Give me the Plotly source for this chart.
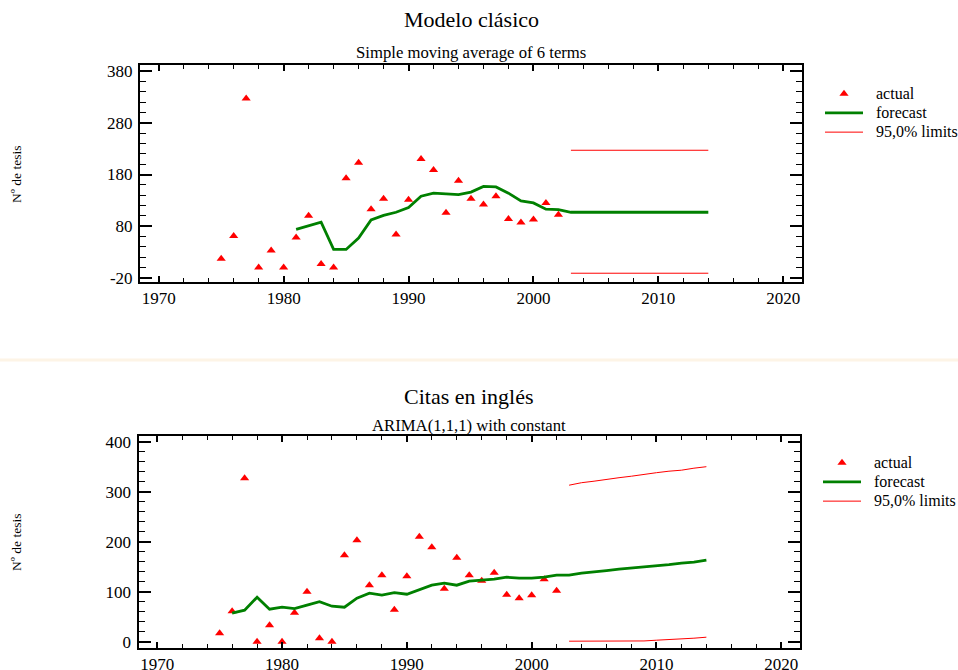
import plotly.graph_objects as go

# ---- data ----
years_actual = list(range(1975, 2003))
actual = [17, 61, 327, 0, 33, 0, 58, 100, 7, 0, 173, 203, 113, 133, 64, 131,
          210, 189, 106, 168, 133, 122, 138, 94, 87, 93, 125, 102]

years_ma = list(range(1981, 2015))
ma_forecast = [74, 81, 88, 35, 35, 57, 92, 101, 107, 116, 138, 144, 142, 141,
               146, 157, 156, 144, 129, 125, 113, 112,
               107, 107, 107, 107, 107, 107, 107, 107, 107, 107, 107, 107]

years_lim = list(range(2003, 2015))
ma_upper = [227, 227, 227, 227, 227, 227, 227, 227, 227, 227, 227, 227]
ma_lower = [-11, -11, -11, -11, -11, -11, -11, -11, -11, -11, -11, -11]

years_arima = list(range(1976, 2015))
arima_forecast = [57, 63, 89, 65, 69, 66, 73, 80, 71, 69, 87, 97, 93, 98, 95,
                  104, 113, 117, 113, 121, 123, 125, 129, 127, 127, 129, 133,
                  133, 137, 139, 142, 145, 147, 149, 151, 154, 157, 159, 163]
arima_upper = [313, 318, 321, 325, 328, 331, 335, 338, 341, 343, 347, 350]
arima_lower = [1, 1, 1, 1, 1, 1, 1.5, 3, 4, 5, 7, 9]

top_yticks = [-20, 80, 180, 280, 380]
top_yticklabels = ["-20", "80", "180", "280", "380"]

W, H = 958, 670
FONT = "Liberation Serif"

def px_x(v):
    return v / W

def px_y(v):
    return 1 - v / H

def leg(s):
    # bigger glyphs inside a smaller legend font keeps the rows tight
    return '<span style="font-size:16px">\u2002%s</span>' % s

fig = go.Figure()

panels = [
    ("x", "y", "legend", years_ma, ma_forecast, ma_upper, ma_lower),
    ("x2", "y2", "legend2", years_arima, arima_forecast, arima_upper, arima_lower),
]
for xa, ya, lg, fy, fc, up, lo in panels:
    fig.add_trace(go.Scatter(x=years_actual, y=actual, mode="markers", name=leg("actual"),
                             marker=dict(symbol="triangle-up", color="red", size=8),
                             xaxis=xa, yaxis=ya, legend=lg, cliponaxis=False))
    fig.add_trace(go.Scatter(x=fy, y=fc, mode="lines", name=leg("forecast"),
                             line=dict(color="#008000", width=2.8),
                             xaxis=xa, yaxis=ya, legend=lg))
    fig.add_trace(go.Scatter(x=years_lim, y=up, mode="lines", name=leg("95,0% limits"),
                             line=dict(color="red", width=1),
                             xaxis=xa, yaxis=ya, legend=lg))
    fig.add_trace(go.Scatter(x=years_lim, y=lo, mode="lines", name="95,0% limits",
                             line=dict(color="red", width=1), showlegend=False,
                             xaxis=xa, yaxis=ya, legend=lg))

xcommon = dict(range=[1968.5, 2021.5], tick0=1970, dtick=10, showgrid=False, zeroline=False,
               showline=True, linecolor="black", linewidth=2, mirror="ticks",
               ticks="inside", ticklen=6, tickwidth=1.5, tickcolor="black",
               minor=dict(ticks="inside", dtick=2, ticklen=4, tickcolor="black", tickwidth=1),
               tickfont=dict(family=FONT, size=17, color="black"), ticklabelstandoff=0)
ycommon = dict(showgrid=False, zeroline=False,
               showline=True, linecolor="black", linewidth=2, mirror="ticks",
               ticks="inside", ticklen=12, tickwidth=1.5, tickcolor="black",
               tickfont=dict(family=FONT, size=17, color="black"), ticklabelstandoff=2)
legcommon = dict(xanchor="left", yanchor="top", bgcolor="rgba(0,0,0,0)",
                 font=dict(family=FONT, size=12.5, color="black"),
                 tracegroupgap=0, itemwidth=38)

fig.update_layout(
    width=W, height=H, margin=dict(l=0, r=0, t=0, b=0, autoexpand=False),
    paper_bgcolor="white", plot_bgcolor="white",
    xaxis=dict(xcommon, domain=[px_x(140), px_x(802)], anchor="y"),
    yaxis=dict(ycommon, domain=[px_y(282), px_y(65)], anchor="x",
               range=[-28, 392], tickvals=top_yticks, ticktext=top_yticklabels,
               minor=dict(ticks="inside", dtick=20, tick0=0, ticklen=6, tickcolor="black", tickwidth=1)),
    xaxis2=dict(xcommon, domain=[px_x(138.5), px_x(800)], anchor="y2"),
    yaxis2=dict(ycommon, domain=[px_y(647.7), px_y(435.7)], anchor="x2",
                range=[-12, 412], tick0=0, dtick=100,
                minor=dict(ticks="inside", dtick=20, ticklen=6, tickcolor="black", tickwidth=1)),
    legend=dict(legcommon, x=px_x(820), y=px_y(79)),
    legend2=dict(legcommon, x=px_x(818), y=px_y(448)),
    showlegend=True,
)

# titles and axis labels
texts = [
    ("Modelo clásico", 471, 20, 22, 0),
    ("Simple moving average of 6 terms", 471, 52, 16.7, 0),
    ("Citas en inglés", 469, 396, 22, 0),
    ("ARIMA(1,1,1) with constant", 469, 425, 16.7, 0),
    ("Nº de tesis", 16, 174, 13.5, -90),
    ("Nº de tesis", 16, 542, 13.5, -90),
]
for t, x, y, s, ang in texts:
    fig.add_annotation(text=t, x=px_x(x), y=px_y(y), xref="paper", yref="paper",
                       xanchor="center", yanchor="middle", showarrow=False, textangle=ang,
                       font=dict(family=FONT, size=s, color="black"))

# faint separator band between the two panels
fig.add_shape(type="line", xref="paper", yref="paper", x0=0, x1=1,
              y0=px_y(360), y1=px_y(360), line=dict(color="#FDF4E6", width=3))

# page body has a default 8px margin; drop it so the figure fills the window
fig.write_html("out.html", config={"displayModeBar": False},
               post_script="document.body.style.margin='0';")
